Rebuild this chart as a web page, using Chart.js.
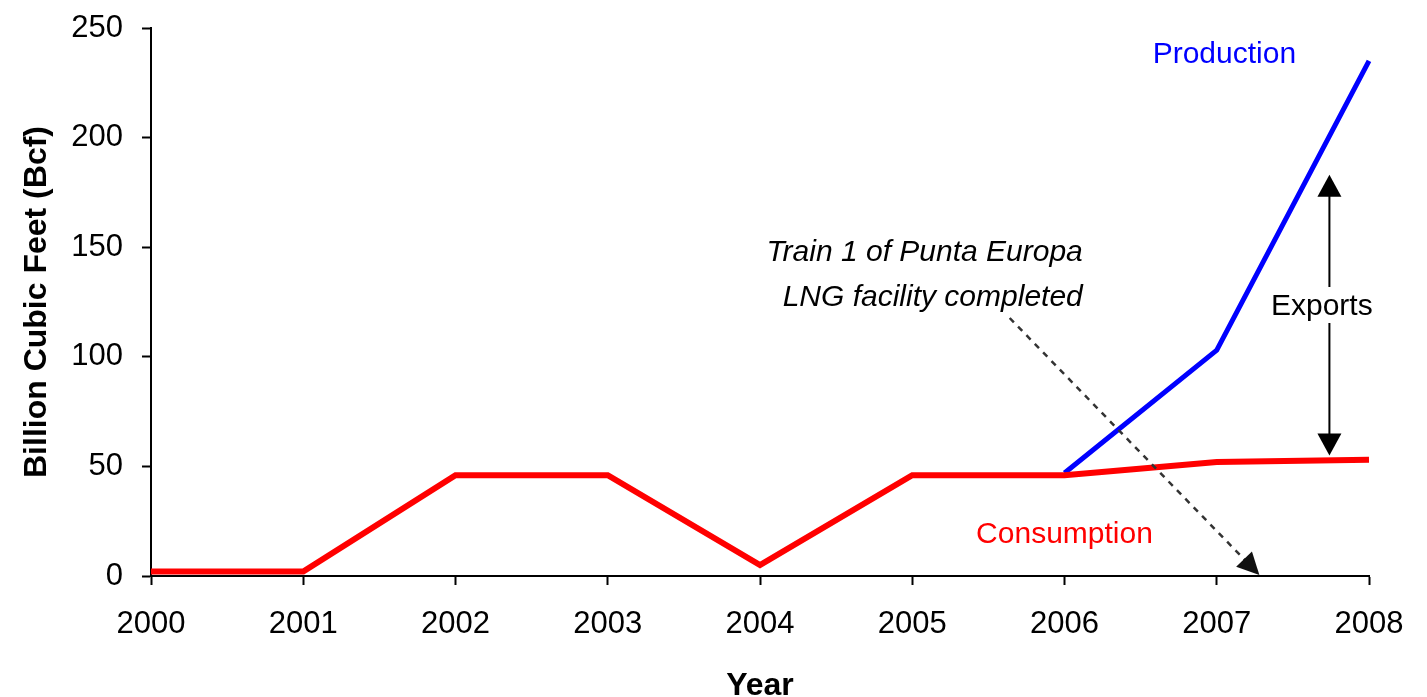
<!DOCTYPE html>
<html>
<head>
<meta charset="utf-8">
<script src="https://cdn.jsdelivr.net/npm/chart.js@4.4.1/dist/chart.umd.min.js"></script>
<style>
  html, body { margin: 0; padding: 0; background: #fff; }
</style>
</head>
<body>
<canvas id="chart_content" width="1427" height="697"></canvas>
<script>
var years = [2000, 2001, 2002, 2003, 2004, 2005, 2006, 2007, 2008];
var consumption = [2, 2, 46, 46, 5, 46, 46, 52, 53];
var production = [null, null, null, null, null, null, 47, 103, 235];
var yTicks = [0, 50, 100, 150, 200, 250];

var FONT = "'Liberation Sans', Arial, sans-serif";

function toPoints(values) {
  var pts = [];
  for (var i = 0; i < years.length; i++) {
    if (values[i] !== null) pts.push({ x: years[i], y: values[i] });
  }
  return pts;
}

// arrowhead: filled triangle with its tip at (x2, y2)
function arrowHead(ctx, x1, y1, x2, y2, len, half) {
  var a = Math.atan2(y2 - y1, x2 - x1);
  ctx.beginPath();
  ctx.moveTo(x2, y2);
  ctx.lineTo(x2 - len * Math.cos(a) + half * Math.sin(a), y2 - len * Math.sin(a) - half * Math.cos(a));
  ctx.lineTo(x2 - len * Math.cos(a) - half * Math.sin(a), y2 - len * Math.sin(a) + half * Math.cos(a));
  ctx.closePath();
  ctx.fill();
}

var notes = {
  id: "notes",
  afterDatasetsDraw: function (chart) {
    var ctx = chart.ctx;
    var xs = chart.scales.x, ys = chart.scales.y;
    function px(v) { return xs.getPixelForValue(v); }
    function py(v) { return ys.getPixelForValue(v); }

    ctx.save();
    ctx.textAlign = "center";
    ctx.textBaseline = "middle";
    ctx.font = "30px " + FONT;

    ctx.fillStyle = "#0000ff";
    ctx.fillText("Production", px(2007.05), py(238));
    ctx.fillStyle = "#ff0000";
    ctx.fillText("Consumption", px(2006.0), py(19));
    ctx.fillStyle = "#000";
    ctx.fillText("Exports", px(2007.69), py(122.7));

    // exports double arrow, broken around the label
    var ax = px(2007.74);
    var top = py(183), bot = py(55), mid = py(122.7);
    ctx.strokeStyle = "#000";
    ctx.lineWidth = 2;
    ctx.beginPath();
    ctx.moveTo(ax, top + 10);
    ctx.lineTo(ax, mid - 20);
    ctx.moveTo(ax, mid + 16);
    ctx.lineTo(ax, bot - 10);
    ctx.stroke();
    arrowHead(ctx, ax, mid, ax, top, 22, 12);
    arrowHead(ctx, ax, mid, ax, bot, 22, 12);

    // note text
    ctx.font = "italic 30px " + FONT;
    ctx.textAlign = "right";
    ctx.fillText("Train 1 of Punta Europa", px(2006.12), py(147.4));
    ctx.fillText("LNG facility completed", px(2006.12), py(126.8));

    // dashed pointer
    var x1 = px(2005.64), y1 = py(117.7), x2 = px(2007.28), y2 = py(0.5);
    ctx.strokeStyle = "#333";
    ctx.fillStyle = "#111";
    ctx.lineWidth = 2.5;
    ctx.setLineDash([6, 6]);
    ctx.beginPath();
    ctx.moveTo(x1, y1);
    var a = Math.atan2(y2 - y1, x2 - x1);
    ctx.lineTo(x2 - 18 * Math.cos(a), y2 - 18 * Math.sin(a));
    ctx.stroke();
    ctx.setLineDash([]);
    arrowHead(ctx, x1, y1, x2, y2, 22, 11);
    ctx.restore();
  }
};

var config = {
  type: "line",
  data: {
    datasets: [
      {
        label: "Consumption",
        data: toPoints(consumption),
        borderColor: "#ff0000",
        borderWidth: 6,
        pointRadius: 0,
        tension: 0
      },
      {
        label: "Production",
        data: toPoints(production),
        borderColor: "#0000ff",
        borderWidth: 5,
        pointRadius: 0,
        tension: 0
      }
    ]
  },
  options: {
    responsive: false,
    animation: false,
    clip: false,
    layout: { padding: { left: 0, top: 28, right: 58, bottom: 0 } },
    plugins: {
      legend: { display: false },
      tooltip: { enabled: false }
    },
    scales: {
      x: {
        type: "linear",
        min: years[0],
        max: years[years.length - 1],
        afterFit: function (scale) { scale.height = 121; },
        afterBuildTicks: function (scale) {
          scale.ticks = years.map(function (v) { return { value: v }; });
        },
        ticks: {
          color: "#000",
          font: { family: FONT, size: 31 },
          padding: 21,
          maxRotation: 0,
          callback: function (v) { return String(v); }
        },
        grid: {
          drawOnChartArea: false,
          drawTicks: true,
          tickLength: 9,
          tickWidth: 2,
          tickColor: "#000"
        },
        border: { color: "#000", width: 2 },
        title: {
          display: true,
          text: "Year",
          color: "#000",
          font: { family: FONT, size: 32, weight: "bold", lineHeight: 0.65 },
          padding: { top: 0, bottom: 0 }
        }
      },
      y: {
        min: 0,
        max: 250,
        afterFit: function (scale) {
          scale.width = 151;
          scale.paddingTop = 0;
          scale.paddingBottom = 0;
        },
        afterBuildTicks: function (scale) {
          scale.ticks = yTicks.map(function (v) { return { value: v }; });
        },
        ticks: {
          color: "#000",
          font: { family: FONT, size: 31 },
          padding: 19
        },
        grid: {
          drawOnChartArea: false,
          drawTicks: true,
          tickLength: 9,
          tickWidth: 2,
          tickColor: "#000"
        },
        border: { color: "#000", width: 2 },
        title: {
          display: true,
          text: "Billion Cubic Feet (Bcf)",
          color: "#000",
          font: { family: FONT, size: 32, weight: "bold", lineHeight: 1.2 },
          padding: { top: 18, bottom: 0 }
        }
      }
    }
  },
  plugins: [notes]
};

var content_chart = new Chart(document.getElementById("chart_content"), config);
</script>
</body>
</html>
